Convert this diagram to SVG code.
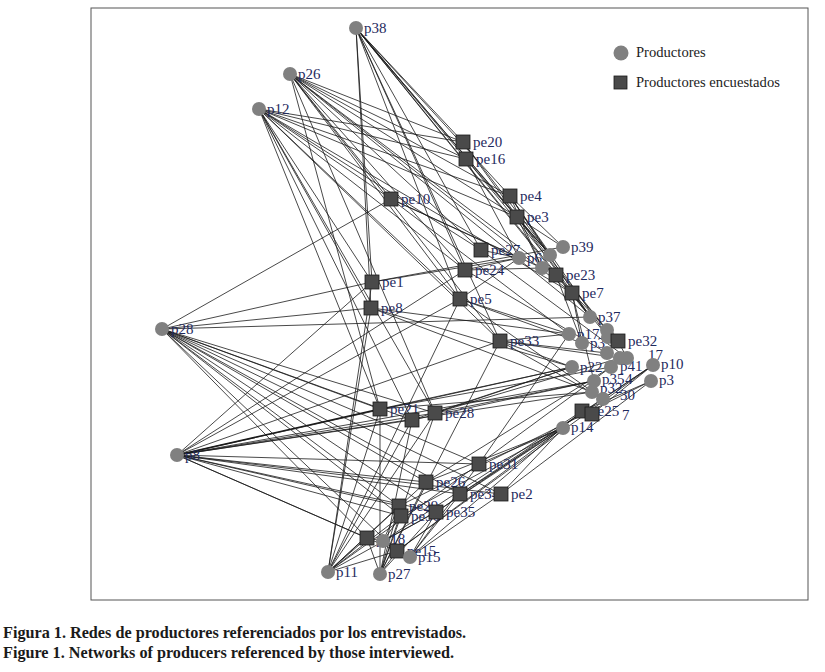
<svg xmlns="http://www.w3.org/2000/svg" width="825" height="672" viewBox="0 0 825 672">
<style>
.e{stroke:#1a1a1a;stroke-width:0.8;fill:none}
.c{fill:#808080}
.s{fill:#4a4a4a;stroke:#1a1a1a;stroke-width:0.8}
.l{font-family:"Liberation Serif",serif;font-size:15px;fill:#1f2a5e}
.lg{font-family:"Liberation Serif",serif;font-size:14.6px;fill:#222}
.cap{font-family:"Liberation Serif",serif;font-size:16.2px;font-weight:bold;fill:#1a1a1a}
</style>
<rect x="0" y="0" width="825" height="672" fill="#fff"/>
<rect x="91" y="8" width="717" height="592" fill="none" stroke="#555" stroke-width="1"/>
<g id="edges" class="e">
<line x1="356" y1="28" x2="463" y2="142"/><line x1="356" y1="28" x2="466" y2="159"/><line x1="356" y1="28" x2="510" y2="196"/><line x1="356" y1="28" x2="517" y2="217"/><line x1="356" y1="28" x2="556" y2="275"/><line x1="356" y1="28" x2="572" y2="293"/><line x1="356" y1="28" x2="465" y2="270"/><line x1="356" y1="28" x2="460" y2="299"/><line x1="356" y1="28" x2="500" y2="341"/><line x1="356" y1="28" x2="371" y2="308"/><line x1="356" y1="28" x2="372" y2="282"/><line x1="356" y1="28" x2="481" y2="250"/><line x1="356" y1="28" x2="550" y2="255"/>
<line x1="290" y1="74" x2="463" y2="142"/><line x1="290" y1="74" x2="466" y2="159"/><line x1="290" y1="74" x2="510" y2="196"/><line x1="290" y1="74" x2="517" y2="217"/><line x1="290" y1="74" x2="481" y2="250"/><line x1="290" y1="74" x2="465" y2="270"/><line x1="290" y1="74" x2="460" y2="299"/><line x1="290" y1="74" x2="556" y2="275"/><line x1="290" y1="74" x2="572" y2="293"/><line x1="290" y1="74" x2="500" y2="341"/><line x1="290" y1="74" x2="380" y2="409"/><line x1="290" y1="74" x2="435" y2="413"/><line x1="290" y1="74" x2="391" y2="199"/><line x1="290" y1="74" x2="590" y2="317"/>
<line x1="259" y1="109" x2="463" y2="142"/><line x1="259" y1="109" x2="466" y2="159"/><line x1="259" y1="109" x2="510" y2="196"/><line x1="259" y1="109" x2="517" y2="217"/><line x1="259" y1="109" x2="391" y2="199"/><line x1="259" y1="109" x2="372" y2="282"/><line x1="259" y1="109" x2="371" y2="308"/><line x1="259" y1="109" x2="465" y2="270"/><line x1="259" y1="109" x2="460" y2="299"/><line x1="259" y1="109" x2="500" y2="341"/><line x1="259" y1="109" x2="380" y2="409"/><line x1="259" y1="109" x2="412" y2="420"/><line x1="259" y1="109" x2="435" y2="413"/><line x1="259" y1="109" x2="481" y2="250"/><line x1="259" y1="109" x2="572" y2="293"/>
<line x1="162" y1="329" x2="391" y2="199"/><line x1="162" y1="329" x2="371" y2="308"/><line x1="162" y1="329" x2="372" y2="282"/><line x1="162" y1="329" x2="590" y2="317"/><line x1="162" y1="329" x2="380" y2="409"/><line x1="162" y1="329" x2="435" y2="413"/><line x1="162" y1="329" x2="412" y2="420"/><line x1="162" y1="329" x2="426" y2="482"/><line x1="162" y1="329" x2="479" y2="464"/><line x1="162" y1="329" x2="460" y2="494"/><line x1="162" y1="329" x2="399" y2="506"/><line x1="162" y1="329" x2="401" y2="516"/><line x1="162" y1="329" x2="436" y2="512"/><line x1="162" y1="329" x2="367" y2="538"/><line x1="162" y1="329" x2="397" y2="551"/><line x1="162" y1="329" x2="501" y2="494"/>
<line x1="177" y1="455" x2="372" y2="282"/><line x1="177" y1="455" x2="465" y2="270"/><line x1="177" y1="455" x2="460" y2="299"/><line x1="177" y1="455" x2="380" y2="409" stroke-width="1.6"/><line x1="177" y1="455" x2="412" y2="420"/><line x1="177" y1="455" x2="435" y2="413"/><line x1="177" y1="455" x2="500" y2="341"/><line x1="177" y1="455" x2="572" y2="367"/><line x1="177" y1="455" x2="594" y2="381"/><line x1="177" y1="455" x2="592" y2="392"/><line x1="177" y1="455" x2="426" y2="482"/><line x1="177" y1="455" x2="399" y2="506"/><line x1="177" y1="455" x2="401" y2="516"/><line x1="177" y1="455" x2="436" y2="512"/><line x1="177" y1="455" x2="460" y2="494"/><line x1="177" y1="455" x2="479" y2="464"/><line x1="177" y1="455" x2="367" y2="538"/><line x1="177" y1="455" x2="397" y2="551"/><line x1="177" y1="455" x2="501" y2="494"/>
<line x1="328" y1="572" x2="372" y2="282"/><line x1="328" y1="572" x2="371" y2="308"/><line x1="328" y1="572" x2="380" y2="409"/><line x1="328" y1="572" x2="412" y2="420"/><line x1="328" y1="572" x2="435" y2="413"/><line x1="328" y1="572" x2="399" y2="506"/><line x1="328" y1="572" x2="401" y2="516"/><line x1="328" y1="572" x2="426" y2="482"/><line x1="328" y1="572" x2="436" y2="512"/><line x1="328" y1="572" x2="367" y2="538"/><line x1="328" y1="572" x2="397" y2="551"/><line x1="328" y1="572" x2="460" y2="299"/><line x1="328" y1="572" x2="479" y2="464"/>
<line x1="380" y1="574" x2="380" y2="409"/><line x1="380" y1="574" x2="412" y2="420"/><line x1="380" y1="574" x2="435" y2="413"/><line x1="380" y1="574" x2="399" y2="506"/><line x1="380" y1="574" x2="401" y2="516"/><line x1="380" y1="574" x2="436" y2="512"/><line x1="380" y1="574" x2="367" y2="538"/><line x1="380" y1="574" x2="397" y2="551"/><line x1="380" y1="574" x2="426" y2="482"/><line x1="380" y1="574" x2="500" y2="341"/>
<line x1="410" y1="557" x2="436" y2="512"/><line x1="410" y1="557" x2="460" y2="494"/><line x1="410" y1="557" x2="501" y2="494"/><line x1="410" y1="557" x2="397" y2="551"/><line x1="410" y1="557" x2="479" y2="464"/><line x1="410" y1="557" x2="582" y2="411"/>
<line x1="383" y1="541" x2="367" y2="538"/><line x1="383" y1="541" x2="397" y2="551"/><line x1="383" y1="541" x2="399" y2="506"/><line x1="383" y1="541" x2="401" y2="516"/><line x1="383" y1="541" x2="436" y2="512"/><line x1="383" y1="541" x2="582" y2="411"/>
<line x1="519" y1="258" x2="465" y2="270"/><line x1="519" y1="258" x2="460" y2="299"/><line x1="519" y1="258" x2="481" y2="250"/><line x1="519" y1="258" x2="391" y2="199"/><line x1="519" y1="258" x2="372" y2="282"/><line x1="519" y1="258" x2="466" y2="159"/>
<line x1="550" y1="255" x2="463" y2="142"/><line x1="550" y1="255" x2="466" y2="159"/><line x1="550" y1="255" x2="510" y2="196"/><line x1="550" y1="255" x2="517" y2="217"/>
<line x1="542" y1="268" x2="510" y2="196"/><line x1="542" y1="268" x2="517" y2="217"/><line x1="542" y1="268" x2="465" y2="270"/><line x1="542" y1="268" x2="391" y2="199"/>
<line x1="563" y1="247" x2="517" y2="217"/><line x1="563" y1="247" x2="510" y2="196"/><line x1="563" y1="247" x2="372" y2="282"/>
<line x1="590" y1="317" x2="463" y2="142"/><line x1="590" y1="317" x2="510" y2="196"/><line x1="590" y1="317" x2="556" y2="275"/><line x1="590" y1="317" x2="572" y2="293"/>
<line x1="607" y1="330" x2="517" y2="217"/><line x1="607" y1="330" x2="466" y2="159"/><line x1="607" y1="330" x2="556" y2="275"/>
<line x1="608" y1="337" x2="510" y2="196"/><line x1="608" y1="337" x2="572" y2="293"/>
<line x1="569" y1="334" x2="391" y2="199"/><line x1="569" y1="334" x2="460" y2="299"/><line x1="569" y1="334" x2="500" y2="341"/><line x1="569" y1="334" x2="371" y2="308"/><line x1="569" y1="334" x2="479" y2="464"/>
<line x1="582" y1="343" x2="572" y2="293"/><line x1="582" y1="343" x2="556" y2="275"/><line x1="582" y1="343" x2="460" y2="299"/>
<line x1="607" y1="353" x2="465" y2="270"/><line x1="607" y1="353" x2="500" y2="341"/><line x1="607" y1="353" x2="618" y2="341"/>
<line x1="620" y1="358" x2="500" y2="341"/><line x1="620" y1="358" x2="435" y2="413"/>
<line x1="627" y1="358" x2="481" y2="250"/><line x1="627" y1="358" x2="618" y2="341"/>
<line x1="653" y1="365" x2="436" y2="512"/><line x1="653" y1="365" x2="460" y2="494"/><line x1="653" y1="365" x2="397" y2="551"/><line x1="653" y1="365" x2="592" y2="414"/>
<line x1="651" y1="381" x2="501" y2="494"/><line x1="651" y1="381" x2="399" y2="506"/><line x1="651" y1="381" x2="582" y2="411"/>
<line x1="572" y1="367" x2="380" y2="409"/><line x1="572" y1="367" x2="435" y2="413"/><line x1="572" y1="367" x2="371" y2="308"/><line x1="572" y1="367" x2="500" y2="341"/><line x1="572" y1="367" x2="412" y2="420"/>
<line x1="611" y1="367" x2="426" y2="482"/><line x1="611" y1="367" x2="479" y2="464"/><line x1="611" y1="367" x2="380" y2="409"/>
<line x1="594" y1="381" x2="435" y2="413"/><line x1="594" y1="381" x2="412" y2="420"/><line x1="594" y1="381" x2="572" y2="293"/>
<line x1="592" y1="392" x2="380" y2="409"/><line x1="592" y1="392" x2="371" y2="308"/>
<line x1="603" y1="399" x2="500" y2="341"/><line x1="603" y1="399" x2="460" y2="299"/>
<line x1="563" y1="428" x2="501" y2="494"/><line x1="563" y1="428" x2="460" y2="494"/><line x1="563" y1="428" x2="436" y2="512"/><line x1="563" y1="428" x2="397" y2="551"/><line x1="563" y1="428" x2="479" y2="464"/><line x1="563" y1="428" x2="426" y2="482"/><line x1="563" y1="428" x2="401" y2="516"/>
</g>
<g id="labels" class="l">
<text x="364" y="33">p38</text><text x="298" y="79">p26</text><text x="267" y="114">p12</text><text x="171" y="334">p28</text><text x="185" y="460">p8</text><text x="336" y="577">p11</text><text x="388" y="579">p27</text><text x="418" y="562">p15</text>
<text x="473" y="147">pe20</text><text x="476" y="164">pe16</text><text x="520" y="201">pe4</text><text x="527" y="222">pe3</text><text x="401" y="204">pe10</text><text x="491" y="255">pe27</text><text x="475" y="275">pe24</text><text x="382" y="287">pe1</text><text x="381" y="313">pe8</text><text x="470" y="304">pe5</text><text x="566" y="280">pe23</text><text x="582" y="298">pe7</text><text x="510" y="346">pe33</text><text x="628" y="346">pe32</text><text x="390" y="414">pe21</text><text x="445" y="418">pe28</text><text x="489" y="469">pe31</text><text x="436" y="487">pe26</text><text x="470" y="499">pe34</text><text x="511" y="499">pe2</text><text x="409" y="511">pe29</text><text x="411" y="521">pe30</text><text x="446" y="517">pe35</text><text x="376" y="544">pe18</text><text x="407" y="556">pe15</text><text x="590" y="416">pe25</text><text x="622" y="420">7</text>
<text x="527" y="263">p6</text><text x="571" y="252">p39</text><text x="598" y="322">p37</text><text x="577" y="339">p17</text><text x="590" y="348">p3</text><text x="648" y="360">17</text><text x="661" y="369">p10</text><text x="659" y="385">p3</text><text x="580" y="372">p22</text><text x="620" y="371">p41</text><text x="602" y="384">p35</text><text x="625" y="384">4</text><text x="600" y="393">p32</text><text x="620" y="400">30</text><text x="571" y="432">p14</text>
</g>
<g id="n-p38"><circle class="c" cx="356" cy="28" r="7"/></g>
<g id="n-p26"><circle class="c" cx="290" cy="74" r="7"/></g>
<g id="n-p12"><circle class="c" cx="259" cy="109" r="7"/></g>
<g id="n-p28"><circle class="c" cx="162" cy="329" r="7"/></g>
<g id="n-p8"><circle class="c" cx="177" cy="455" r="7"/></g>
<g id="n-pe20"><rect class="s" x="456" y="135" width="14" height="14"/></g>
<g id="n-pe16"><rect class="s" x="459" y="152" width="14" height="14"/></g>
<g id="n-pe4"><rect class="s" x="503" y="189" width="14" height="14"/></g>
<g id="n-pe3"><rect class="s" x="510" y="210" width="14" height="14"/></g>
<g id="n-pe10"><rect class="s" x="384" y="192" width="14" height="14"/></g>
<g id="n-pe27"><rect class="s" x="474" y="243" width="14" height="14"/></g>
<g id="n-pe24"><rect class="s" x="458" y="263" width="14" height="14"/></g>
<g id="n-pe1"><rect class="s" x="365" y="275" width="14" height="14"/></g>
<g id="n-pe8"><rect class="s" x="364" y="301" width="14" height="14"/></g>
<g id="n-pe5"><rect class="s" x="453" y="292" width="14" height="14"/></g>
<g id="n-p6"><circle class="c" cx="519" cy="258" r="7"/></g>
<g id="n-p9"><circle class="c" cx="550" cy="255" r="7"/></g>
<g id="n-p39"><circle class="c" cx="563" cy="247" r="7"/></g>
<g id="n-p40"><circle class="c" cx="542" cy="268" r="7"/></g>
<g id="n-pe23"><rect class="s" x="549" y="268" width="14" height="14"/></g>
<g id="n-pe7"><rect class="s" x="565" y="286" width="14" height="14"/></g>
<g id="n-pe33"><rect class="s" x="493" y="334" width="14" height="14"/></g>
<g id="n-p37"><circle class="c" cx="590" cy="317" r="7"/></g>
<g id="n-p17"><circle class="c" cx="569" cy="334" r="7"/></g>
<g id="n-p3b"><circle class="c" cx="582" cy="343" r="7"/></g>
<g id="n-p19"><circle class="c" cx="607" cy="330" r="7"/></g>
<g id="n-p20"><circle class="c" cx="608" cy="337" r="7"/></g>
<g id="n-pe32"><rect class="s" x="611" y="334" width="14" height="14"/></g>
<g id="n-p21"><circle class="c" cx="607" cy="353" r="7"/></g>
<g id="n-p16"><circle class="c" cx="620" cy="358" r="7"/></g>
<g id="n-p7"><circle class="c" cx="627" cy="358" r="7"/></g>
<g id="n-p10"><circle class="c" cx="653" cy="365" r="7"/></g>
<g id="n-p3"><circle class="c" cx="651" cy="381" r="7"/></g>
<g id="n-p22"><circle class="c" cx="572" cy="367" r="7"/></g>
<g id="n-p41"><circle class="c" cx="611" cy="367" r="7"/></g>
<g id="n-p35"><circle class="c" cx="594" cy="381" r="7"/></g>
<g id="n-p32"><circle class="c" cx="592" cy="392" r="7"/></g>
<g id="n-p30"><circle class="c" cx="603" cy="399" r="7"/></g>
<g id="n-p14"><circle class="c" cx="563" cy="428" r="7"/></g>
<g id="n-pe25"><rect class="s" x="575" y="404" width="14" height="14"/></g>
<g id="n-pe17"><rect class="s" x="585" y="407" width="14" height="14"/></g>
<g id="n-pe21"><rect class="s" x="373" y="402" width="14" height="14"/></g>
<g id="n-pe9"><rect class="s" x="405" y="413" width="14" height="14"/></g>
<g id="n-pe28"><rect class="s" x="428" y="406" width="14" height="14"/></g>
<g id="n-pe31"><rect class="s" x="472" y="457" width="14" height="14"/></g>
<g id="n-pe26"><rect class="s" x="419" y="475" width="14" height="14"/></g>
<g id="n-pe34"><rect class="s" x="453" y="487" width="14" height="14"/></g>
<g id="n-pe2"><rect class="s" x="494" y="487" width="14" height="14"/></g>
<g id="n-pe29"><rect class="s" x="392" y="499" width="14" height="14"/></g>
<g id="n-pe30"><rect class="s" x="394" y="509" width="14" height="14"/></g>
<g id="n-pe35"><rect class="s" x="429" y="505" width="14" height="14"/></g>
<g id="n-pe18"><rect class="s" x="360" y="531" width="14" height="14"/></g>
<g id="n-p18"><circle class="c" cx="383" cy="541" r="7"/></g>
<g id="n-pe15"><rect class="s" x="390" y="544" width="14" height="14"/></g>
<g id="n-p15"><circle class="c" cx="410" cy="557" r="7"/></g>
<g id="n-p11"><circle class="c" cx="328" cy="572" r="7"/></g>
<g id="n-p27"><circle class="c" cx="380" cy="574" r="7"/></g>
<g id="legend">
<circle class="c" cx="621" cy="53" r="7.5"/>
<text class="lg" x="636" y="57">Productores</text>
<rect class="s" x="614" y="76" width="13" height="13"/>
<text class="lg" x="636" y="87">Productores encuestados</text>
</g>
<g id="caption">
<text class="cap" x="3" y="638">Figura 1. Redes de productores referenciados por los entrevistados.</text>
<text class="cap" x="3" y="658">Figure 1. Networks of producers referenced by those interviewed.</text>
</g>
</svg>
